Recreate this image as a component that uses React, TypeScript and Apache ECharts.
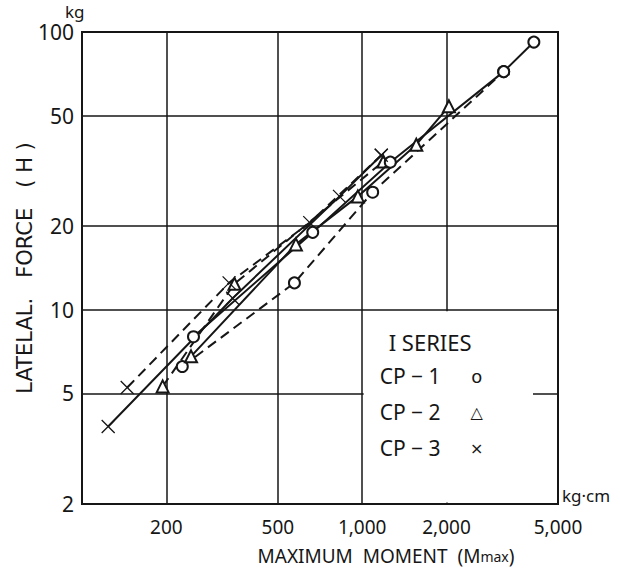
import React, { useEffect, useRef } from "react";
import * as echarts from "echarts";

const INK = "#161616";
const FONT = "'Noto Sans', 'DejaVu Sans', sans-serif";
const WIDE = "'DejaVu Sans', 'Noto Sans', sans-serif";

// axis ticks
const xTickValues = [200, 500, 1000, 2000, 5000];
const yTickValues = [2, 5, 10, 20, 50, 100];

// Maximum moment (kg·cm) and lateral force (kg)
const cp1SolidM = [250, 666, 1260, 3200, 4100];
const cp1SolidH = [8.0, 19.0, 34.0, 72.0, 92.0];
const cp1DashM = [228, 573, 1090, 3200];
const cp1DashH = [6.25, 12.5, 26.5, 72.0];

const cp2SolidM = [245, 580, 965, 1560, 2040];
const cp2SolidH = [6.8, 17.2, 25.6, 39.3, 54.0];
const cp2DashM = [194, 350, 1190];
const cp2DashH = [5.3, 12.4, 34.2];

const cp3SolidM = [124, 345, 830, 1170];
const cp3SolidH = [3.8, 11.0, 25.6, 36.0];
const cp3DashM = [145, 335, 650, 1170];
const cp3DashH = [5.25, 12.5, 20.6, 36.0];

const legendTitle = "I SERIES";
const legendNames = ["CP − 1", "CP − 2", "CP − 3"];
const legendMarks = ["o", "△", "×"];

const X_MARK = "path://M0,0L10,10M10,0L0,10";

function pairs(xs: number[], ys: number[]) {
  return xs.map((x, i) => [x, ys[i]]);
}

function series(name: string, xs: number[], ys: number[], symbol: string, dashed: boolean, size: number) {
  return {
    type: "line",
    name,
    data: pairs(xs, ys),
    symbol,
    symbolSize: size,
    showSymbol: true,
    silent: true,
    z: dashed ? 3 : 4,
    lineStyle: { color: INK, width: 2, type: dashed ? [10, 6] : "solid" },
    itemStyle: { color: INK, borderColor: INK, borderWidth: 1.3 },
  };
}

export default function App() {
  const ref = useRef<HTMLDivElement>(null);

  useEffect(() => {
    if (!ref.current) return;
    const chart = echarts.init(ref.current, undefined, { renderer: "svg" });
    const fmt = (v: number) => v.toLocaleString("en-US");
    chart.setOption({
      animation: false,
      backgroundColor: "#ffffff",
      grid: {
        left: 82,
        top: 32,
        width: 476,
        height: 472,
        show: true,
        borderColor: INK,
        borderWidth: 2,
        containLabel: false,
      },
      xAxis: {
        type: "log",
        logBase: 10,
        min: 100,
        max: 5000,
        axisLine: { show: true, lineStyle: { color: INK, width: 2 } },
        axisTick: { show: false, customValues: xTickValues },
        axisLabel: {
          customValues: xTickValues,
          formatter: (v: number) => fmt(v),
          color: INK,
          fontFamily: FONT,
          fontSize: 19,
          margin: 13,
        },
        splitLine: { show: true, lineStyle: { color: INK, width: 1.5 } },
      },
      yAxis: {
        type: "log",
        logBase: 10,
        min: 2,
        max: 100,
        axisLine: { show: true, lineStyle: { color: INK, width: 2 } },
        axisTick: { show: false, customValues: yTickValues },
        axisLabel: {
          customValues: yTickValues,
          formatter: (v: number) => String(v),
          color: INK,
          fontFamily: FONT,
          fontSize: 21,
          margin: 8,
        },
        splitLine: { show: true, lineStyle: { color: INK, width: 1.5 } },
      },
      series: [
        series("CP-1", cp1SolidM, cp1SolidH, "emptyCircle", false, 11),
        series("CP-1 dashed", cp1DashM, cp1DashH, "emptyCircle", true, 11),
        series("CP-2", cp2SolidM, cp2SolidH, "emptyTriangle", false, 12),
        series("CP-2 dashed", cp2DashM, cp2DashH, "emptyTriangle", true, 12),
        series("CP-3", cp3SolidM, cp3SolidH, X_MARK, false, 13),
        series("CP-3 dashed", cp3DashM, cp3DashH, X_MARK, true, 13),
      ],
    });

    const tl = chart.convertToPixel({ gridIndex: 0 }, [1000, 10]) as number[];
    const br = chart.convertToPixel({ gridIndex: 0 }, [5000, 2]) as number[];
    const boxLeft = tl[0] + 1.5;
    const boxTop = tl[1] + 1.5;
    const boxRight = br[0] - 25;
    const boxBottom = br[1] - 1.5;
    const textStyle = { fill: INK, fontFamily: FONT, fontSize: 21 };

    chart.setOption({
      graphic: [
        {
          type: "rect",
          z: 1,
          shape: { x: boxLeft, y: boxTop, width: boxRight - boxLeft, height: boxBottom - boxTop },
          style: { fill: "#ffffff" },
          silent: true,
        },
        {
          type: "text",
          z: 5,
          x: boxLeft + 25,
          y: boxTop + 31,
          style: { ...textStyle, fontSize: 22, text: legendTitle, verticalAlign: "middle" },
        },
        ...legendNames.map((n, i) => ({
          type: "text",
          z: 5,
          x: boxLeft + 16,
          y: boxTop + 65 + i * 36,
          style: { ...textStyle, text: n, verticalAlign: "middle" },
        })),
        ...legendMarks.map((m, i) => ({
          type: "text",
          z: 5,
          x: boxLeft + 113,
          y: boxTop + 65 + i * 36,
          style: {
            ...textStyle,
            fontFamily: WIDE,
            fontSize: i === 0 ? 18 : 16,
            text: m,
            align: "center",
            verticalAlign: "middle",
          },
        })),
        {
          type: "text",
          x: 65,
          y: 11,
          style: { ...textStyle, fontSize: 17, text: "kg", verticalAlign: "middle" },
        },
        {
          type: "text",
          x: br[0] + 4,
          y: br[1] - 9,
          style: { ...textStyle, fontSize: 17, text: "kg·cm", verticalAlign: "middle" },
        },
        {
          type: "text",
          x: 25,
          y: 268,
          rotation: Math.PI / 2,
          style: {
            ...textStyle,
            fontFamily: WIDE,
            fontSize: 21,
            text: "LATELAL.   FORCE   ( H )",
            align: "center",
            verticalAlign: "middle",
          },
        },
        {
          type: "text",
          x: 386,
          y: 556,
          style: {
            ...textStyle,
            fontSize: 19,
            text: "MAXIMUM  MOMENT  (M{s|max})",
            align: "center",
            verticalAlign: "middle",
            rich: { s: { fontSize: 14, fontFamily: FONT, fill: INK } },
          },
        },
      ],
    });

    return () => chart.dispose();
  }, []);

  return (
    <div
      ref={ref}
      style={{ position: "fixed", left: 0, top: 0, width: 620, height: 572, background: "#fff" }}
    />
  );
}
